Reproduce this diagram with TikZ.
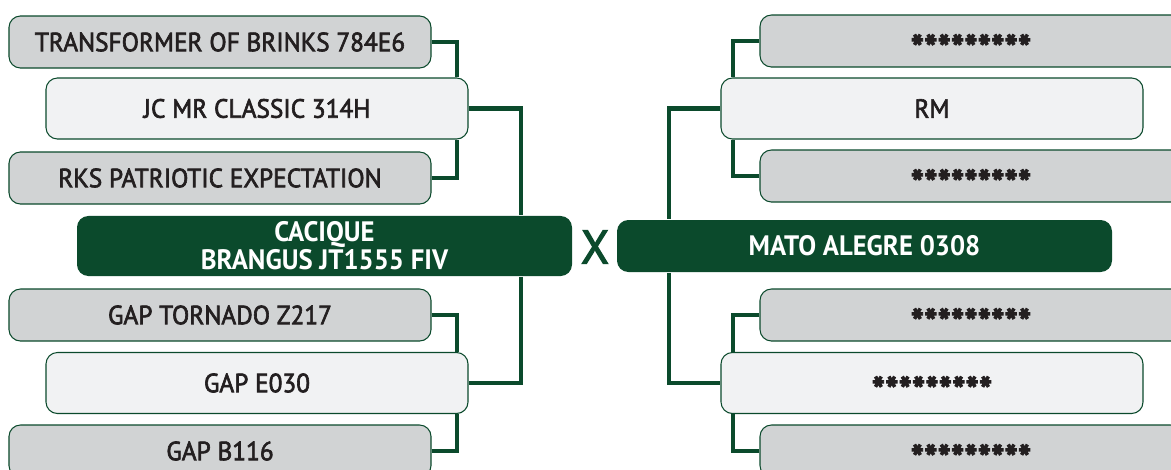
\documentclass[tikz,border=0pt]{standalone}
\usepackage{fontspec}
\setmainfont{PT Sans}
\newfontfamily\namefont[FakeBold=2.4,FakeStretch=0.96]{PT Sans}
\newfontfamily\bullfont[FakeStretch=0.95]{PT Sans Bold}
\usepackage{tikz}
\usetikzlibrary{positioning, backgrounds}
\definecolor{bullgreen}{RGB}{11,74,44}
\definecolor{boxgray}{RGB}{209,211,212}
\definecolor{boxlight}{RGB}{241,242,243}
\definecolor{inkgray}{RGB}{35,31,32}
\newcommand{\hidden}{\raisebox{-9pt}[5pt][0pt]{\bfseries\fontsize{21}{21}\selectfont *********}}

\begin{document}
\begin{tikzpicture}[
  base/.style    = {rectangle, draw=bullgreen, line width=0.6pt, rounded corners=6.5pt,
                    align=center, text=inkgray, font=\namefont\fontsize{15}{16}\selectfont},
  sirebox/.style = {base, fill=boxgray, minimum width=8.44cm, minimum height=1.04cm},
  mainbox/.style = {base, fill=boxlight, minimum width=8.44cm, minimum height=1.22cm},
  bullbox/.style = {base, draw=none, fill=bullgreen, text=white, minimum width=9.9cm,
                    minimum height=1.04cm, font=\bullfont\fontsize{16}{12.5}\selectfont},
  link/.style    = {draw=bullgreen, line width=2.3pt}
]
\useasboundingbox (0,0) rectangle (23.42,-9.38);

% left family
\node[sirebox] (lt1) at (4.40,-0.84) {TRANSFORMER OF BRINKS 784E6};
\node[mainbox] (lm1) at (5.14,-2.17) {JC MR CLASSIC 314H};
\node[sirebox] (lt3) at (4.40,-3.56) {RKS PATRIOTIC EXPECTATION};
\node[bullbox] (lbull) at (6.49,-4.92) {CACIQUE\\BRANGUS JT1555 FIV};
\node[sirebox] (lt5) at (4.40,-6.30) {GAP TORNADO Z217};
\node[mainbox] (lm2) at (5.14,-7.66) {GAP E030};
\node[sirebox] (lt7) at (4.40,-9.02) {GAP B116};

% cross
\node[text=bullgreen, font=\namefont\fontsize{27}{27}\selectfont] (cross) at (11.90,-4.94) {X};

% right family
\node[sirebox] (rt1) at (19.42,-0.82) {\hidden};
\node[mainbox] (rm1) at (18.64,-2.17) {RM};
\node[sirebox] (rt3) at (19.42,-3.52) {\hidden};
\node[bullbox] (rbull) at (17.29,-4.92) {MATO ALEGRE 0308};
\node[sirebox] (rt5) at (19.42,-6.30) {\hidden};
\node[mainbox] (rm2) at (18.64,-7.66) {\hidden};
\node[sirebox] (rt7) at (19.42,-9.02) {\hidden};

\coordinate (lsmall) at (9.14,0);
\coordinate (lbig)   at (10.42,0);
\coordinate (rsmall) at (14.66,0);
\coordinate (rbig)   at (13.38,0);

\begin{scope}[on background layer]
  \draw[link] (lt1.east) -| (lsmall |- lm1.north);
  \draw[link] (lt3.east) -| (lsmall |- lm1.south);
  \draw[link] (lm1.east) -| (lbig |- lbull.north);
  \draw[link] (lbig |- lbull.south) |- (lm2.east);
  \draw[link] (lt5.east) -| (lsmall |- lm2.north);
  \draw[link] (lt7.east) -| (lsmall |- lm2.south);

  \draw[link] (rt1.west) -| (rsmall |- rm1.north);
  \draw[link] (rt3.west) -| (rsmall |- rm1.south);
  \draw[link] (rm1.west) -| (rbig |- rbull.north);
  \draw[link] (rbig |- rbull.south) |- (rm2.west);
  \draw[link] (rt5.west) -| (rsmall |- rm2.north);
  \draw[link] (rt7.west) -| (rsmall |- rm2.south);
\end{scope}
\end{tikzpicture}
\end{document}
